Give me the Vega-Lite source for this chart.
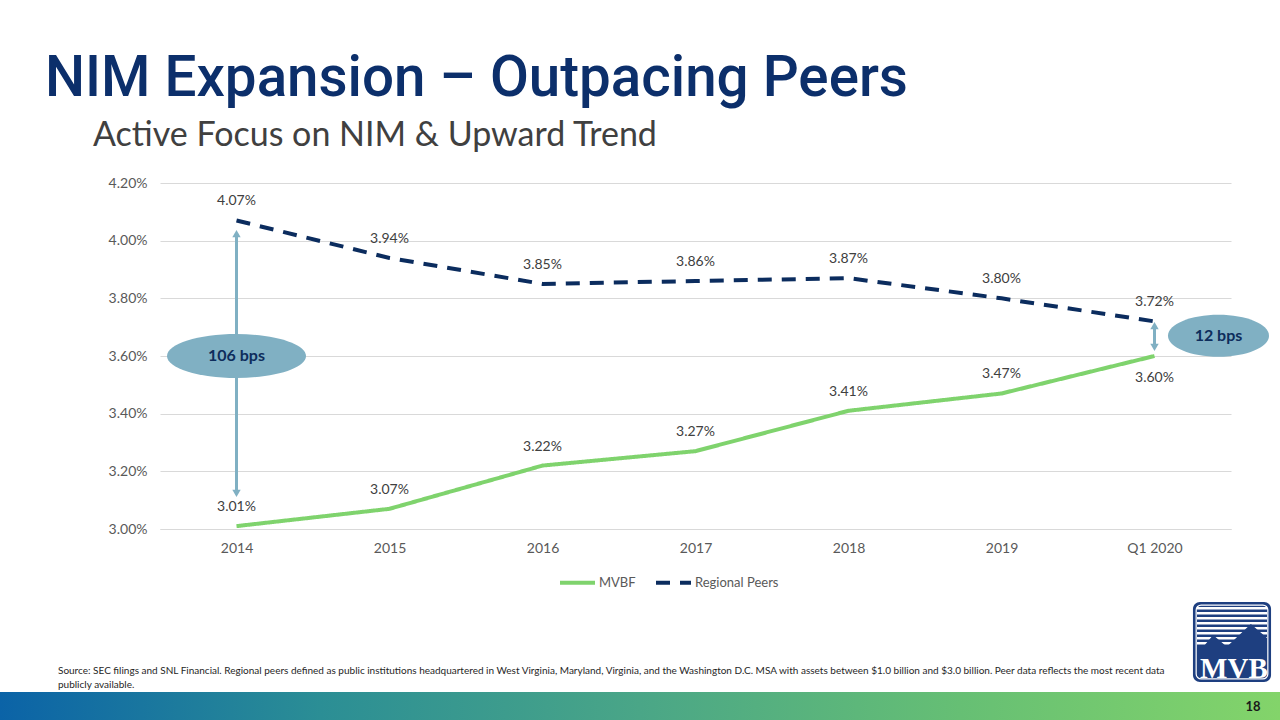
{
  "$schema": "https://vega.github.io/schema/vega-lite/v6.json",
  "background": "white",
  "padding": {"left": 0, "top": 51, "right": 0, "bottom": 0},
  "autosize": {"type": "pad"},
  "config": {"view": {"stroke": null}},
  "title": {
    "text": "NIM Expansion – Outpacing Peers",
    "anchor": "start",
    "frame": "group",
    "dx": 45,
    "font": "Roboto",
    "fontWeight": 500,
    "fontSize": 56.5,
    "color": "#0c2f6b",
    "offset": 11.5
  },
  "datasets": {
    "nim": [
      {"year": "2014", "series": "MVBF", "value": 0.0301},
      {"year": "2015", "series": "MVBF", "value": 0.0307},
      {"year": "2016", "series": "MVBF", "value": 0.0322},
      {"year": "2017", "series": "MVBF", "value": 0.0327},
      {"year": "2018", "series": "MVBF", "value": 0.0341},
      {"year": "2019", "series": "MVBF", "value": 0.0347},
      {"year": "Q1 2020", "series": "MVBF", "value": 0.036},
      {"year": "2014", "series": "Regional Peers", "value": 0.0407},
      {"year": "2015", "series": "Regional Peers", "value": 0.0394},
      {"year": "2016", "series": "Regional Peers", "value": 0.0385},
      {"year": "2017", "series": "Regional Peers", "value": 0.0386},
      {"year": "2018", "series": "Regional Peers", "value": 0.0387},
      {"year": "2019", "series": "Regional Peers", "value": 0.038},
      {"year": "Q1 2020", "series": "Regional Peers", "value": 0.0372}
    ],
    "gaps": [
      {"year": "2014", "label": "106 bps", "head_top": 0.040245, "head_bottom": 0.031235, "bubble": 0.036},
      {"year": "Q1 2020", "label": "12 bps", "head_top": 0.037054, "head_bottom": 0.036298, "bubble": 0.0367}
    ]
  },
  "spacing": 417,
  "bounds": "flush",
  "vconcat": [
    {
      "spacing": 0,
      "bounds": "flush",
      "hconcat": [
        {
          "width": 160,
          "height": 346,
          "data": {"values": []},
          "mark": {"type": "point"},
          "encoding": {}
        },
        {
          "width": 1071,
          "height": 346,
          "title": {
            "text": "Active Focus on NIM & Upward Trend",
            "anchor": "start",
            "frame": "group",
            "dx": -67,
            "font": "Lato",
            "fontSize": 34,
            "fontWeight": "normal",
            "color": "#404040",
            "offset": 23
          },
          "layer": [
            {
              "data": {"name": "nim"},
              "mark": {"type": "line", "strokeWidth": 4},
              "encoding": {
                "x": {
                  "field": "year",
                  "type": "ordinal",
                  "scale": {"type": "point", "padding": 0.5, "domain": ["2014", "2015", "2016", "2017", "2018", "2019", "Q1 2020"]},
                  "axis": {"title": null, "labelAngle": 0, "ticks": false, "domainColor": "#d9d9d9", "labelPadding": 12, "labelFont": "Lato", "labelFontSize": 14, "labelColor": "#595959", "grid": false}
                },
                "y": {
                  "field": "value",
                  "type": "quantitative",
                  "scale": {"domain": [0.03, 0.042], "nice": false, "zero": false},
                  "axis": {"title": null, "values": [0.03, 0.032, 0.034, 0.036, 0.038, 0.04, 0.042], "format": ".2%", "domain": false, "ticks": false, "labelPadding": 13, "labelFont": "Lato", "labelFontSize": 14, "labelColor": "#595959", "gridColor": "#d9d9d9", "gridWidth": 1}
                },
                "color": {
                  "field": "series",
                  "type": "nominal",
                  "scale": {"domain": ["MVBF", "Regional Peers"], "range": ["#7fd36d", "#0b2c5e"]},
                  "legend": {"title": null, "orient": "none", "legendX": 558, "legendY": 380, "direction": "horizontal", "symbolType": "stroke", "symbolSize": 1225, "symbolStrokeWidth": 4, "labelFont": "Lato", "labelFontSize": 13, "labelColor": "#595959", "columnPadding": 12, "labelOffset": 2}
                },
                "strokeDash": {
                  "field": "series",
                  "type": "nominal",
                  "scale": {"domain": ["MVBF", "Regional Peers"], "range": [[1, 0], [14, 10]]},
                  "legend": {"title": null, "orient": "none", "legendX": 558, "legendY": 380, "direction": "horizontal", "symbolType": "stroke", "symbolSize": 1225, "symbolStrokeWidth": 4, "labelFont": "Lato", "labelFontSize": 13, "labelColor": "#595959", "columnPadding": 12, "labelOffset": 2}
                }
              }
            },
            {
              "data": {"name": "nim"},
              "transform": [{"filter": "datum.year != 'Q1 2020' || datum.series == 'Regional Peers'"}],
              "mark": {"type": "text", "dy": -19, "font": "Lato", "fontSize": 14, "color": "#404040"},
              "encoding": {
                "x": {"field": "year", "type": "ordinal"},
                "y": {"field": "value", "type": "quantitative"},
                "text": {"field": "value", "type": "quantitative", "format": ".2%"}
              }
            },
            {
              "data": {"name": "nim"},
              "transform": [{"filter": "datum.year == 'Q1 2020' && datum.series == 'MVBF'"}],
              "mark": {"type": "text", "dy": 22, "font": "Lato", "fontSize": 14, "color": "#404040"},
              "encoding": {
                "x": {"field": "year", "type": "ordinal"},
                "y": {"field": "value", "type": "quantitative"},
                "text": {"field": "value", "type": "quantitative", "format": ".2%"}
              }
            },
            {
              "data": {"name": "gaps"},
              "mark": {"type": "rule", "strokeWidth": 3, "color": "#80b0c3"},
              "encoding": {
                "x": {"field": "year", "type": "ordinal"},
                "y": {"field": "head_bottom", "type": "quantitative"},
                "y2": {"field": "head_top"}
              }
            },
            {
              "data": {"name": "gaps"},
              "mark": {"type": "point", "shape": "triangle-up", "filled": true, "size": 70, "color": "#80b0c3", "opacity": 1},
              "encoding": {
                "x": {"field": "year", "type": "ordinal"},
                "y": {"field": "head_top", "type": "quantitative"}
              }
            },
            {
              "data": {"name": "gaps"},
              "mark": {"type": "point", "shape": "triangle-down", "filled": true, "size": 70, "color": "#80b0c3", "opacity": 1},
              "encoding": {
                "x": {"field": "year", "type": "ordinal"},
                "y": {"field": "head_bottom", "type": "quantitative"}
              }
            },
            {
              "data": {"name": "gaps"},
              "transform": [{"filter": "datum.label == '106 bps'"}],
              "mark": {"type": "point", "shape": "M-1,0A1,0.3165 0 1,0 1,0A1,0.3165 0 1,0 -1,0Z", "filled": true, "size": 19321, "color": "#80b0c3", "opacity": 1},
              "encoding": {
                "x": {"field": "year", "type": "ordinal"},
                "y": {"field": "bubble", "type": "quantitative"}
              }
            },
            {
              "data": {"name": "gaps"},
              "transform": [{"filter": "datum.label == '12 bps'"}],
              "mark": {"type": "point", "shape": "M-1,0A1,0.416 0 1,0 1,0A1,0.416 0 1,0 -1,0Z", "filled": true, "size": 10201, "color": "#80b0c3", "opacity": 1, "xOffset": 64},
              "encoding": {
                "x": {"field": "year", "type": "ordinal"},
                "y": {"field": "bubble", "type": "quantitative"}
              }
            },
            {
              "data": {"name": "gaps"},
              "transform": [{"filter": "datum.label == '106 bps'"}],
              "mark": {"type": "text", "font": "Lato", "fontWeight": "bold", "fontSize": 16, "color": "#0e2d5c"},
              "encoding": {
                "x": {"field": "year", "type": "ordinal"},
                "y": {"field": "bubble", "type": "quantitative"},
                "text": {"field": "label"}
              }
            },
            {
              "data": {"name": "gaps"},
              "transform": [{"filter": "datum.label == '12 bps'"}],
              "mark": {"type": "text", "font": "Lato", "fontWeight": "bold", "fontSize": 16, "color": "#0e2d5c", "dx": 64},
              "encoding": {
                "x": {"field": "year", "type": "ordinal"},
                "y": {"field": "bubble", "type": "quantitative"},
                "text": {"field": "label"}
              }
            }
          ]
        }
      ]
    },
    {
      "width": 1280,
      "height": 120,
      "data": {"values": [{}]},
      "layer": [
        {
          "mark": {"type": "rect", "fill": {"gradient": "linear", "x1": 0, "y1": 0, "x2": 1, "y2": 0, "stops": [{"offset": 0, "color": "#0b63a7"}, {"offset": 0.25, "color": "#2b8e95"}, {"offset": 0.5, "color": "#4aa687"}, {"offset": 0.75, "color": "#66bf74"}, {"offset": 1, "color": "#83d46a"}]}},
          "encoding": {
            "x": {"datum": 0, "type": "quantitative", "scale": {"domain": [0, 100], "nice": false, "zero": false}, "axis": null},
            "x2": {"datum": 100},
            "y": {"datum": 0, "type": "quantitative", "scale": {"domain": [0, 100], "nice": false, "zero": false}, "axis": null},
            "y2": {"datum": 23.3}
          }
        },
        {
          "mark": {"type": "text", "text": "18", "font": "Lato", "fontWeight": "bold", "fontSize": 13, "color": "#1a1a1a"},
          "encoding": {
            "x": {"datum": 97.9, "type": "quantitative"},
            "y": {"datum": 10.8, "type": "quantitative"}
          }
        },
        {
          "mark": {"type": "text", "align": "left", "baseline": "top", "lineHeight": 14, "font": "Lato", "fontSize": 10, "color": "#262626", "text": ["Source: SEC filings and SNL Financial. Regional peers defined as public institutions headquartered in West Virginia, Maryland, Virginia, and the Washington D.C. MSA with assets between $1.0 billion and $3.0 billion. Peer data reflects the most recent data", "publicly available."]},
          "encoding": {
            "x": {"datum": 4.53, "type": "quantitative"},
            "y": {"datum": 45, "type": "quantitative"}
          }
        },
        {
          "mark": {"type": "rect", "fill": "#1e3f80", "cornerRadius": 7},
          "encoding": {
            "x": {"datum": 93.2, "type": "quantitative"},
            "x2": {"datum": 99.3},
            "y": {"datum": 31.7, "type": "quantitative"},
            "y2": {"datum": 98.3}
          }
        },
        {
          "mark": {"type": "rule", "color": "white", "strokeWidth": 70, "strokeDash": [2.5, 2.5]},
          "encoding": {
            "x": {"datum": 96.25, "type": "quantitative"},
            "y": {"datum": 94.2, "type": "quantitative"},
            "y2": {"datum": 61.7}
          }
        },
        {
          "mark": {"type": "point", "shape": "M-1,0.32L-0.51,-0.27L-0.14,0.05L0.51,-0.57L1,-0.14L1,0.38L-1,0.38Z", "filled": true, "size": 5476, "color": "#1e3f80", "opacity": 1},
          "encoding": {
            "x": {"datum": 96.25, "type": "quantitative"},
            "y": {"datum": 62.5, "type": "quantitative"}
          }
        },
        {
          "mark": {"type": "rect", "fill": null, "fillOpacity": 0, "stroke": "white", "strokeWidth": 1.2, "cornerRadius": 5},
          "encoding": {
            "x": {"datum": 93.45, "type": "quantitative"},
            "x2": {"datum": 99.05},
            "y": {"datum": 34.2, "type": "quantitative"},
            "y2": {"datum": 95.8}
          }
        },
        {
          "mark": {"type": "text", "text": "MVB", "font": "Liberation Serif", "fontWeight": "bold", "fontSize": 29, "color": "white", "baseline": "alphabetic"},
          "encoding": {
            "x": {"datum": 96.4, "type": "quantitative"},
            "y": {"datum": 35, "type": "quantitative"}
          }
        }
      ]
    }
  ]
}
